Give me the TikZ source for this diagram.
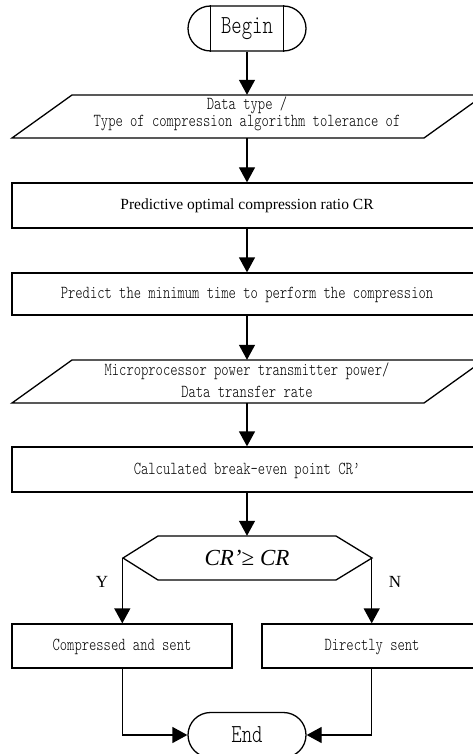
\documentclass[tikz,border=0pt]{standalone}
\usepackage{fontspec}
\setmainfont{Liberation Serif}
\newfontfamily\simf[FakeStretch=0.76]{lmmonolt10-regular.otf}
\usetikzlibrary{arrows.meta,calc}
\tikzset{
  box/.style={draw, line width=1.3pt, inner sep=0pt},
  lbl/.style={inner sep=0pt, font=\simf\fontsize{18.3}{20}\selectfont},
  term/.style={draw, line width=1.3pt, rounded corners=22.5pt, minimum width=118pt, minimum height=45pt, inner sep=0pt, font=\simf\fontsize{26}{28}\selectfont},
  conn/.style={line width=1.3pt, -{Triangle[length=15pt,width=16pt]}},
  plain/.style={line width=1.3pt, line join=miter},
  yn/.style={inner sep=0pt, font=\fontsize{17}{20}\selectfont}
}
\begin{document}
\begin{tikzpicture}[x=1pt,y=-1pt]
\useasboundingbox (0,0) rectangle (473,754);
\clip (0,0) rectangle (473,754);
% Begin
\node[term] (begin) at (247,28.5) {Begin};
\draw[plain] ([xshift=23pt]begin.north west) -- ([xshift=23pt]begin.south west);
\draw[plain] ([xshift=-23pt]begin.north east) -- ([xshift=-23pt]begin.south east);
% parallelogram 1
\node[minimum width=412pt, minimum height=43pt, inner sep=0pt] (p1) at (247,116.5) {};
\draw[plain] (12,138) -- (72,95) -- (484,95) -- (424,138) -- cycle;
\node[lbl] (p1a) at (247,105) {Data type /};
\node[lbl] (p1b) at (247,123.5) {Type of compression algorithm tolerance of};
% rect 1
\node[box, minimum width=470pt, minimum height=45pt] (r1) at (247,205.5) {};
\node[inner sep=0pt, font=\fontsize{15.5}{18}\selectfont] (r1t) at (247,205.5) {Predictive optimal compression ratio CR};
% rect 2
\node[box, minimum width=470pt, minimum height=42pt] (r2) at (247,294) {};
\node[lbl] (r2t) at (247,295) {Predict the minimum time to perform the compression};
% parallelogram 2
\node[minimum width=412pt, minimum height=43pt, inner sep=0pt] (p2) at (247,381.5) {};
\draw[plain] (12,403) -- (72,360) -- (484,360) -- (424,403) -- cycle;
\node[lbl] (p2a) at (247,371) {Microprocessor power transmitter power/};
\node[lbl] (p2b) at (247,392) {Data transfer rate};
% rect 3
\node[box, minimum width=470pt, minimum height=45pt] (r3) at (247,469.5) {};
\node[lbl] (r3t) at (247,470.5) {Calculated break-even point CR’};
% decision
\node[minimum width=249pt, minimum height=44pt, inner sep=0pt] (dec) at (247,558) {};
\draw[plain] (123,558) -- (158,536) -- (336,536) -- (372,558) -- (336,580) -- (158,580) -- cycle;
\node[inner sep=0pt, font=\fontsize{23}{26}\selectfont\itshape] (dect) at (247,558) {CR\symbol{39}{\upshape ≥} CR};
% rect 4,5
\node[box, minimum width=220pt, minimum height=44pt] (r4) at (122,646) {};
\node[lbl] (r4t) at (122,647) {Compressed and sent};
\node[box, minimum width=220pt, minimum height=44pt] (r5) at (372,646) {};
\node[lbl] (r5t) at (372,647) {Directly sent};
% End
\node[term] (end) at (247,735) {End};
% labels
\node[yn] (ylab) at (102,582) {Y};
\node[yn] (nlab) at (395,582) {N};
% connectors
\draw[conn] (begin.south) -- (p1.north);
\draw[conn] (p1.south) -- (r1.north);
\draw[conn] (r1.south) -- (r2.north);
\draw[conn] (r2.south) -- (p2.north);
\draw[conn] (p2.south) -- (r3.north);
\draw[conn] (r3.south) -- (dec.north);
\draw[conn] (dec.west) -- (dec.west |- r4.north);
\draw[conn] (dec.east) -- (dec.east |- r5.north);
\draw[conn] (dec.west |- r4.south) |- (end.west);
\draw[conn] (dec.east |- r5.south) |- (end.east);
\end{tikzpicture}
\end{document}
